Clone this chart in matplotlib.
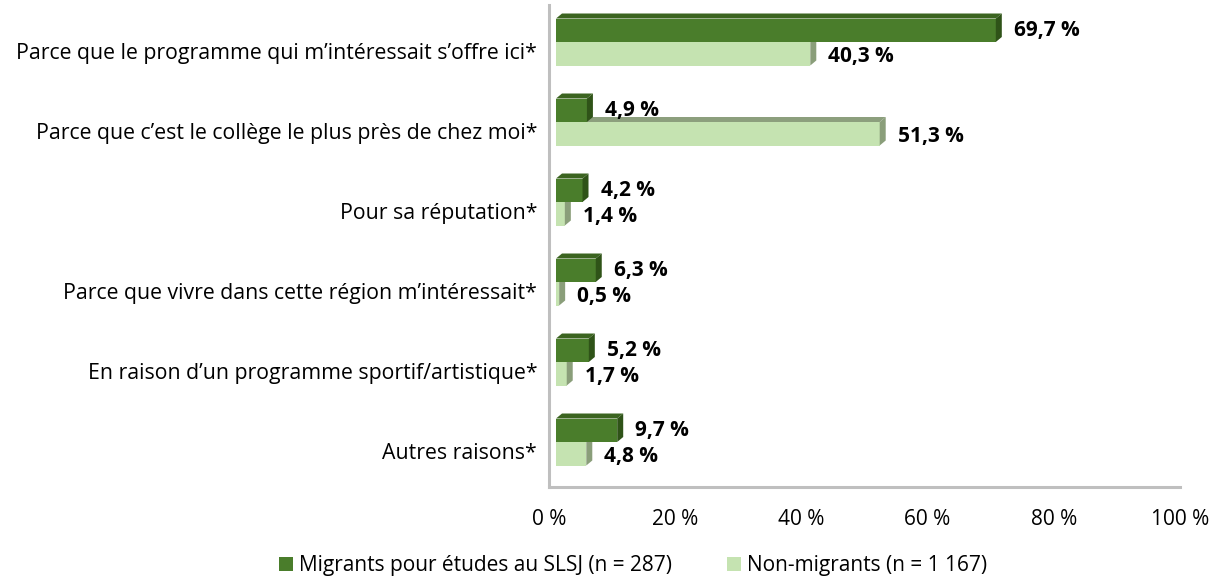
import matplotlib
matplotlib.use("Agg")
import matplotlib.pyplot as plt
from matplotlib.patches import Polygon, Rectangle
from matplotlib import transforms
import numpy as np

categories = [
    "Parce que le programme qui m\u2019intéressait s\u2019offre ici*",
    "Parce que c\u2019est le collège le plus près de chez moi*",
    "Pour sa réputation*",
    "Parce que vivre dans cette région m\u2019intéressait*",
    "En raison d\u2019un programme sportif/artistique*",
    "Autres raisons*",
]
migrants = [69.7, 4.9, 4.2, 6.3, 5.2, 9.7]
non_migrants = [40.3, 51.3, 1.4, 0.5, 1.7, 4.8]
series_names = ["Migrants pour études au SLSJ (n = 287)", "Non-migrants (n = 1 167)"]
xticks = [0, 20, 40, 60, 80, 100]

FONT = "Open Sans"
plt.rcParams['font.family'] = [FONT, 'DejaVu Sans']
FS = 15.0
FS_CAT = 15.3

W, H, DPI = 1215, 577, 100
fig = plt.figure(figsize=(W / DPI, H / DPI), dpi=DPI)

# axes placement (pixels)
ax_left, ax_right, ax_top, ax_bottom = 549, 1180, 5, 487
ax = fig.add_axes([ax_left / W, 1 - ax_bottom / H, (ax_right - ax_left) / W, (ax_bottom - ax_top) / H])
label_y0, spacing = 51, 80
ax.set_xlim(0, 100)
ax.set_ylim((ax_bottom - label_y0) / spacing, (ax_top - label_y0) / spacing)

px_x = (ax_right - ax_left) / 100.0
px_y = spacing

dark_front = "#4a7d2b"
dark_top = "#3b6420"
dark_side = "#2f5318"
light_front = "#c5e3b1"
light_top = "#8c9f7d"
light_side = "#8a9e7a"

bar_h = 23.5 / px_y
dxd = 6 / px_x          # depth x in data units
dyd = -5 / px_y         # depth y (upwards) in data units
off = transforms.offset_copy(ax.transData, fig=fig, x=7, y=9, units='dots')


def bar3d(y_top, value, front, top, side):
    y_bot = y_top + bar_h
    ax.add_patch(Rectangle((0, y_top), value, bar_h, facecolor=front, edgecolor='none',
                           transform=off, zorder=3))
    ax.add_patch(Polygon([(0, y_top), (value, y_top), (value + dxd, y_top + dyd), (dxd, y_top + dyd)],
                         closed=True, facecolor=top, edgecolor='none', transform=off, zorder=3))
    ax.add_patch(Polygon([(value, y_top), (value, y_bot), (value + dxd, y_bot + dyd), (value + dxd, y_top + dyd)],
                         closed=True, facecolor=side, edgecolor='none', transform=off, zorder=3))


for i, (m, n) in enumerate(zip(migrants, non_migrants)):
    bar3d(i, n, light_front, light_top, light_side)
    bar3d(i - bar_h, m, dark_front, dark_top, dark_side)

dark_lbl = transforms.offset_copy(ax.transData, fig=fig, x=7 + 18, y=9, units='dots')
light_lbl = transforms.offset_copy(ax.transData, fig=fig, x=7 + 18, y=6, units='dots')
for i, (m, n) in enumerate(zip(migrants, non_migrants)):
    ax.text(m, i - bar_h / 2, f"{m:.1f} %".replace(".", ","), transform=dark_lbl,
            ha='left', va='center', fontsize=FS, fontweight='bold', color='black', zorder=5)
    ax.text(n, i + bar_h / 2, f"{n:.1f} %".replace(".", ","), transform=light_lbl,
            ha='left', va='center', fontsize=FS, fontweight='bold', color='black', zorder=5)

ax.set_yticks(range(len(categories)))
ax.set_yticklabels(categories, fontsize=FS_CAT)
ax.set_xticks(xticks)
ax.set_xticklabels([f"{t} %" for t in xticks], fontsize=FS)
ax.tick_params(axis='both', length=0)
ax.tick_params(axis='y', pad=8.5)
ax.tick_params(axis='x', pad=16)

for s in ['top', 'right']:
    ax.spines[s].set_visible(False)
for s in ['left', 'bottom']:
    ax.spines[s].set_color('#bfbfbf')
    ax.spines[s].set_linewidth(2.2)
ax.set_facecolor('none')

handles = [Rectangle((0, 0), 1, 1, facecolor=dark_front, edgecolor='none'),
           Rectangle((0, 0), 1, 1, facecolor=light_front, edgecolor='none')]
fig.legend(handles, series_names, loc='center left', bbox_to_anchor=(279 / W, 1 - 566 / H),
           ncol=2, frameon=False, fontsize=FS, handlelength=10 / FS, handleheight=10 / FS,
           handletextpad=0.3, columnspacing=2.64, borderpad=0, borderaxespad=0)

fig.savefig("out.png", dpi=DPI)
